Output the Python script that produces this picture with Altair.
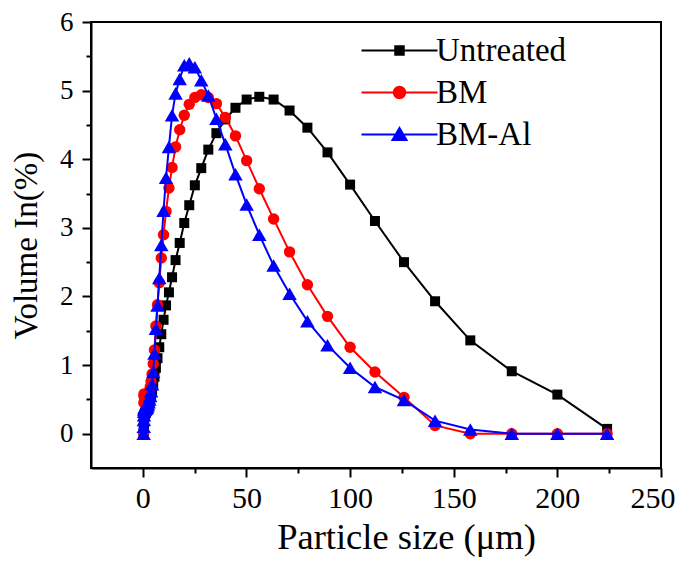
import altair as alt
import pandas as pd

# ---- data ----
sizes = [0.40, 0.45, 0.50, 0.56, 0.63, 0.71, 0.80, 0.89, 1.00, 1.12, 1.26, 1.41, 1.58, 1.78,
         2.00, 2.24, 2.51, 2.82, 3.16, 3.55, 3.98, 4.47, 5.01, 5.62, 6.31, 7.08, 7.94, 8.91,
         10.0, 11.2, 12.6, 14.1, 15.8, 17.8, 20.0, 22.4, 25.1, 28.2, 31.6, 35.5, 39.8, 44.7,
         50.1, 56.2, 63.1, 70.8, 79.4, 89.1, 100, 112, 126, 141, 158, 178, 200, 224]

untreated = [0.00, 0.06, 0.12, 0.17, 0.21, 0.24, 0.26, 0.28, 0.29, 0.30, 0.31, 0.31, 0.32, 0.33,
             0.34, 0.36, 0.38, 0.41, 0.45, 0.50, 0.56, 0.63, 0.72, 0.83, 0.96, 1.10, 1.26, 1.45,
             1.66, 1.87, 2.06, 2.28, 2.53, 2.78, 3.07, 3.33, 3.62, 3.87, 4.14, 4.38, 4.58, 4.75,
             4.87, 4.91, 4.87, 4.71, 4.46, 4.10, 3.63, 3.10, 2.50, 1.93, 1.36, 0.91, 0.57, 0.07]

bm = [0.00, 0.28, 0.45, 0.55, 0.58, 0.57, 0.55, 0.52, 0.50, 0.48, 0.47, 0.46, 0.46, 0.47,
      0.48, 0.50, 0.53, 0.57, 0.62, 0.68, 0.76, 0.87, 1.02, 1.22, 1.57, 1.88, 2.20, 2.56,
      2.90, 3.24, 3.58, 3.88, 4.18, 4.43, 4.64, 4.80, 4.90, 4.94, 4.90, 4.81, 4.61, 4.34,
      3.98, 3.57, 3.13, 2.65, 2.17, 1.71, 1.26, 0.90, 0.53, 0.12, 0.00, 0.00, 0.00, 0.00]

bm_al = [0.00, 0.10, 0.20, 0.27, 0.32, 0.35, 0.37, 0.38, 0.38, 0.38, 0.37, 0.37, 0.37, 0.38,
         0.39, 0.41, 0.43, 0.46, 0.50, 0.55, 0.62, 0.72, 0.90, 1.17, 1.53, 1.87, 2.27, 2.75,
         3.25, 3.73, 4.18, 4.64, 4.96, 5.17, 5.37, 5.40, 5.34, 5.15, 4.93, 4.59, 4.22, 3.78,
         3.34, 2.90, 2.45, 2.04, 1.64, 1.29, 0.96, 0.68, 0.49, 0.19, 0.06, 0.00, 0.00, 0.00]

series_names = ["Untreated", "BM", "BM-Al"]
series_colors = ["#000000", "#ff0000", "#0000ff"]
series_shapes = ["square", "circle", "triangle-up"]
series_sizes = [100, 130, 210]

x_major = [0, 50, 100, 150, 200, 250]
x_minor = [25, 75, 125, 175, 225]
y_major = [0, 1, 2, 3, 4, 5, 6]
y_minor = [0.5, 1.5, 2.5, 3.5, 4.5, 5.5]

# legend symbols: line with a marker in the middle (custom SVG paths)
legend_paths = [
    "M-7.6,0H7.6M-0.85,-0.85H0.85V0.85H-0.85Z",
    "M-7.6,0H7.6M-1.15,0A1.15,1.15,0,1,1,1.15,0A1.15,1.15,0,1,1,-1.15,0Z",
    "M-7.6,0H7.6M0,-1.3L1.4,1.1L-1.4,1.1Z",
]

rows = []
for name, vals in zip(series_names, [untreated, bm, bm_al]):
    for s, v in zip(sizes, vals):
        rows.append({"size": s, "vol": v, "series": name})
df = pd.DataFrame(rows)

FONT = "Liberation Serif"
xscale = alt.Scale(domain=[-25, 250], nice=False, zero=False)
yscale = alt.Scale(domain=[-0.5, 6], nice=False, zero=False)

main_x_axis = alt.Axis(
    values=x_major, orient="bottom", grid=False,
    tickSize=9, tickWidth=2, tickColor="black",
    domainWidth=2, domainColor="black",
    labelFont=FONT, labelFontSize=30, labelColor="black", labelPadding=6,
    labelFlush=True, labelFlushOffset=14, labelOverlap=False,
    title="Particle size (μm)", titleFont=FONT, titleFontSize=36.5,
    titleFontWeight="normal", titleColor="black",
    titleX=315, titleY=80, titleAlign="center", titleBaseline="alphabetic",
)
main_y_axis = alt.Axis(
    values=y_major, orient="left", grid=False,
    tickSize=9, tickWidth=2, tickColor="black",
    domainWidth=2, domainColor="black",
    labelFont=FONT, labelFontSize=27, labelColor="black", labelPadding=9,
    labelFlush=False, labelOverlap=False,
    title="Volume In(%)", titleFont=FONT, titleFontSize=33,
    titleFontWeight="normal", titleColor="black",
    titleAngle=270, titleX=-55, titleY=223, titleAlign="center",
    titleBaseline="alphabetic",
)
minor_x_axis = alt.Axis(values=x_minor, orient="bottom", grid=False, labels=False,
                        domain=False, tickSize=5, tickWidth=2, tickColor="black")
minor_y_axis = alt.Axis(values=y_minor, orient="left", grid=False, labels=False,
                        domain=False, tickSize=5, tickWidth=2, tickColor="black")

base = alt.Chart(df)

minor_layer = base.mark_point(opacity=0).encode(
    x=alt.X("size:Q", scale=xscale, axis=minor_x_axis, title=None),
    y=alt.Y("vol:Q", scale=yscale, axis=minor_y_axis, title=None),
)

layers = [minor_layer]
for i, (name, col, shp, sz) in enumerate(zip(series_names, series_colors, series_shapes, series_sizes)):
    if i == 0:
        xe = alt.X("size:Q", scale=xscale, axis=main_x_axis)
        ye = alt.Y("vol:Q", scale=yscale, axis=main_y_axis)
    else:
        xe = alt.X("size:Q", scale=xscale, axis=None)
        ye = alt.Y("vol:Q", scale=yscale, axis=None)
    sub = base.transform_filter(alt.datum.series == name)
    line = sub.mark_line(color=col, strokeWidth=2).encode(x=xe, y=ye)
    pts = sub.mark_point(filled=True, shape=shp, size=sz, color=col, opacity=1).encode(
        x=alt.X("size:Q", scale=xscale, axis=None),
        y=alt.Y("vol:Q", scale=yscale, axis=None),
    )
    layers += [line, pts]

leg = alt.Legend(
    orient="none", legendX=292, legendY=12, title=None,
    labelFont=FONT, labelFontSize=33, labelColor="black",
    symbolSize=100, symbolStrokeWidth=2, labelOffset=20,
    rowPadding=8, padding=0, symbolOpacity=1,
)

legend_layer = base.transform_filter("datum.vol < -100").mark_point(
    filled=True, strokeWidth=2, opacity=1
).encode(
    x=alt.X("size:Q", scale=xscale, axis=None),
    y=alt.Y("vol:Q", scale=yscale, axis=None),
    shape=alt.Shape("series:N", scale=alt.Scale(domain=series_names, range=legend_paths), legend=leg),
    color=alt.Color("series:N", scale=alt.Scale(domain=series_names, range=series_colors), legend=leg),
    stroke=alt.Stroke("series:N", scale=alt.Scale(domain=series_names, range=series_colors), legend=leg),
)
layers.append(legend_layer)

chart = alt.layer(*layers).resolve_axis(x="independent", y="independent").properties(
    width=570, height=446,
    autosize=alt.AutoSizeParams(type="none"),
    padding={"left": 83, "top": 14, "right": 16, "bottom": 89},
).configure_view(stroke="black", strokeWidth=2)

chart.save("out.html", embed_options={"renderer": "svg", "actions": False})
